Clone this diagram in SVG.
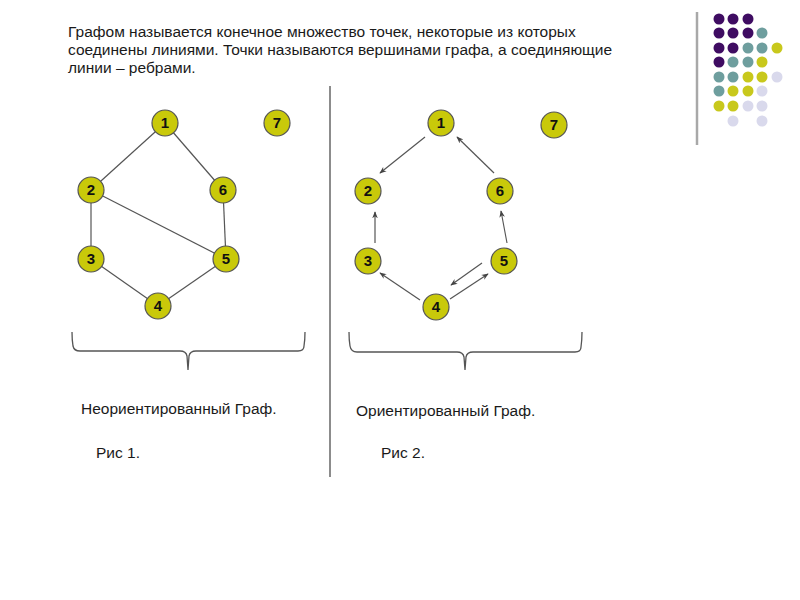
<svg xmlns="http://www.w3.org/2000/svg" width="800" height="600" viewBox="0 0 800 600">
<style>
.t{font-family:"Liberation Sans",Arial,sans-serif;font-size:15.5px;fill:#1a1a1a}
.n circle{fill:#c9c90a;stroke:#555;stroke-width:1.2}
.n text{font-family:"Liberation Sans",Arial,sans-serif;font-size:15px;font-weight:bold;fill:#111;text-anchor:middle}
.e{stroke:#555;stroke-width:1.2;fill:none}
.a{stroke:#555;stroke-width:1.2;fill:none;marker-end:url(#ah)}
.br{stroke:#555;stroke-width:1.3;fill:none}
.P{fill:#3f0c62}.T{fill:#6e9e9e}.Y{fill:#c8c81c}.L{fill:#d9d9ec}
</style>
<defs>
<marker id="ah" viewBox="0 0 10 10" refX="9" refY="5" markerWidth="7" markerHeight="7" orient="auto" markerUnits="userSpaceOnUse">
<path d="M0,1 L10,5 L0,9 L3,5 Z" fill="#444"/>
</marker>
</defs>
<rect width="800" height="600" fill="#fff"/>
<g id="decor">
<line x1="697" y1="12" x2="697" y2="145" stroke="#a8a8a8" stroke-width="2.5"/>
<g>
<circle class="P" cx="719" cy="19" r="5.5"/><circle class="P" cx="733" cy="19" r="5.5"/><circle class="P" cx="748" cy="19" r="5.5"/>
<circle class="P" cx="719" cy="33" r="5.5"/><circle class="P" cx="733" cy="33" r="5.5"/><circle class="P" cx="748" cy="33" r="5.5"/><circle class="T" cx="762" cy="33" r="5.5"/>
<circle class="P" cx="719" cy="48" r="5.5"/><circle class="P" cx="733" cy="48" r="5.5"/><circle class="T" cx="748" cy="48" r="5.5"/><circle class="T" cx="762" cy="48" r="5.5"/><circle class="Y" cx="777" cy="48" r="5.5"/>
<circle class="P" cx="719" cy="62" r="5.5"/><circle class="T" cx="733" cy="62" r="5.5"/><circle class="T" cx="748" cy="62" r="5.5"/><circle class="Y" cx="762" cy="62" r="5.5"/>
<circle class="T" cx="719" cy="77" r="5.5"/><circle class="T" cx="733" cy="77" r="5.5"/><circle class="Y" cx="748" cy="77" r="5.5"/><circle class="Y" cx="762" cy="77" r="5.5"/><circle class="L" cx="777" cy="77" r="5.5"/>
<circle class="T" cx="719" cy="91" r="5.5"/><circle class="Y" cx="733" cy="91" r="5.5"/><circle class="Y" cx="748" cy="91" r="5.5"/><circle class="L" cx="762" cy="91" r="5.5"/>
<circle class="Y" cx="719" cy="106" r="5.5"/><circle class="Y" cx="733" cy="106" r="5.5"/><circle class="L" cx="748" cy="106" r="5.5"/><circle class="L" cx="762" cy="106" r="5.5"/>
<circle class="L" cx="733" cy="121" r="5.5"/><circle class="L" cx="762" cy="121" r="5.5"/>
</g>
<line x1="330" y1="86" x2="330" y2="477" stroke="#666" stroke-width="1.5"/>
</g>
<g id="text">
<text class="t" x="68" y="37">Графом называется конечное множество точек, некоторые из которых</text>
<text class="t" x="68" y="55">соединены линиями. Точки называются вершинами графа, а соединяющие</text>
<text class="t" x="68" y="73">линии – ребрами.</text>
<text class="t" x="81" y="414">Неориентированный Граф.</text>
<text class="t" x="356" y="416">Ориентированный Граф.</text>
<text class="t" x="96" y="458">Рис 1.</text>
<text class="t" x="381" y="458">Рис 2.</text>
</g>
<g id="connectors">
<line class="e" x1="165" y1="123" x2="91" y2="190"/>
<line class="e" x1="165" y1="123" x2="223" y2="190"/>
<line class="e" x1="91" y1="190" x2="226" y2="259"/>
<line class="e" x1="91" y1="190" x2="91" y2="259"/>
<line class="e" x1="223" y1="190" x2="226" y2="259"/>
<line class="e" x1="91" y1="259" x2="158" y2="306"/>
<line class="e" x1="226" y1="259" x2="158" y2="306"/>
<line class="a" x1="425" y1="137" x2="380" y2="173"/>
<line class="a" x1="494" y1="173" x2="457" y2="137"/>
<line class="a" x1="375" y1="243" x2="375" y2="212"/>
<line class="a" x1="507" y1="243" x2="501" y2="211"/>
<line class="a" x1="420" y1="300" x2="380" y2="273"/>
<line class="a" x1="482" y1="263" x2="451" y2="285"/>
<line class="a" x1="450" y1="299" x2="488" y2="274"/>
<path class="br" d="M72,332 Q72,340 73,346 Q74,351 80,351 L180,351 Q186,351 187,356 L188,370 L189,356 Q190,351 196,351 L298,351 Q304,351 304,346 Q305,340 305,332"/>
<path class="br" d="M349,332 Q349,340 350,346 Q351,352 357,352 L457,352 Q463,352 464,357 L465,370 L466,357 Q467,352 473,352 L575,352 Q581,352 581,347 Q582,340 582,332"/>
</g>
<g id="n1" class="n"><circle cx="165" cy="123" r="13"/><text x="165" y="128">1</text></g>
<g id="n2" class="n"><circle cx="91" cy="190" r="13"/><text x="91" y="195">2</text></g>
<g id="n6" class="n"><circle cx="223" cy="190" r="13"/><text x="223" y="195">6</text></g>
<g id="n3" class="n"><circle cx="91" cy="259" r="13"/><text x="91" y="264">3</text></g>
<g id="n5" class="n"><circle cx="226" cy="259" r="13"/><text x="226" y="264">5</text></g>
<g id="n4" class="n"><circle cx="158" cy="306" r="13"/><text x="158" y="311">4</text></g>
<g id="n7" class="n"><circle cx="277" cy="123" r="13"/><text x="277" y="128">7</text></g>
<g id="m1" class="n"><circle cx="441" cy="123" r="13"/><text x="441" y="128">1</text></g>
<g id="m2" class="n"><circle cx="368" cy="191" r="13"/><text x="368" y="196">2</text></g>
<g id="m6" class="n"><circle cx="500" cy="191" r="13"/><text x="500" y="196">6</text></g>
<g id="m3" class="n"><circle cx="368" cy="261" r="13"/><text x="368" y="266">3</text></g>
<g id="m5" class="n"><circle cx="504" cy="261" r="13"/><text x="504" y="266">5</text></g>
<g id="m4" class="n"><circle cx="436" cy="307" r="13"/><text x="436" y="312">4</text></g>
<g id="m7" class="n"><circle cx="554" cy="125" r="13"/><text x="554" y="130">7</text></g>
</svg>
